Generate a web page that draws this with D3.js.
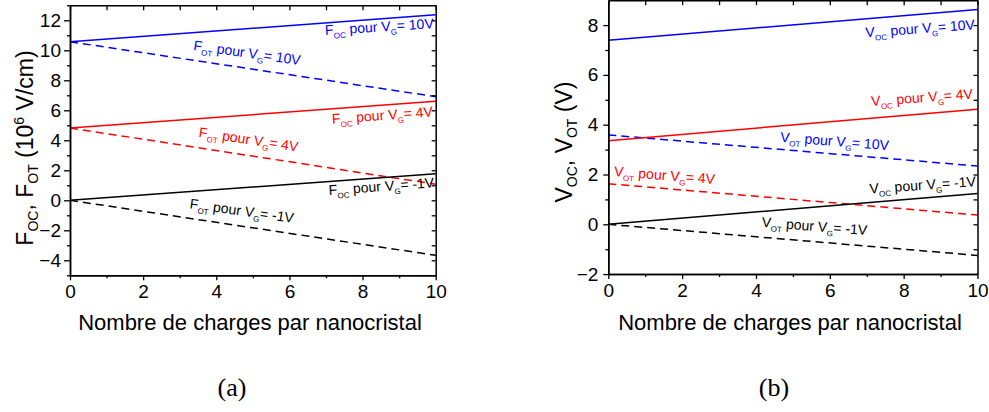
<!DOCTYPE html>
<html>
<head>
<meta charset="utf-8">
<script src="https://cdn.jsdelivr.net/npm/d3@7"></script>
<style>
  html, body { margin: 0; padding: 0; background: #fff; }
  svg { display: block; }
</style>
</head>
<body>
<svg id="chart" width="989" height="412"></svg>
<script>
// ---------- data ----------
const charges = [0, 10];
const xTicks = [0, 2, 4, 6, 8, 10];
const xMinorTicks = [1, 3, 5, 7, 9];

// panel (a): fields (10^6 V/cm)
const leftYTicks = [-4, -2, 0, 2, 4, 6, 8, 10, 12];
const leftYMinor = [-5, -3, -1, 1, 3, 5, 7, 9, 11, 13];
const fOC_VG10 = [10.57, 12.37];
const fOT_VG10 = [10.57, 6.91];
const fOC_VG4 = [4.82, 6.60];
const fOT_VG4 = [4.82, 1.07];
const fOC_VGm1 = [0, 1.77];
const fOT_VGm1 = [0, -3.67];

// panel (b): voltages (V)
const rightYTicks = [-2, 0, 2, 4, 6, 8];
const rightYMinor = [-1, 1, 3, 5, 7];
const vOC_VG10 = [7.39, 8.63];
const vOT_VG10 = [3.59, 2.34];
const vOC_VG4 = [3.36, 4.62];
const vOT_VG4 = [1.63, 0.37];
const vOC_VGm1 = [0, 1.24];
const vOT_VGm1 = [0, -1.25];

// label texts
const leftLabels = [
  { sym: "F", sub: "OC", vg: "10V", ax: 6.98, ay: 11.02, rot: -3.6, color: "#0000ff" },
  { sym: "F", sub: "OT", vg: "10V", ax: 3.36, ay: 10.02, rot: 8.0, color: "#0000ff" },
  { sym: "F", sub: "OC", vg: "4V",  ax: 7.17, ay: 5.10,  rot: -4.2, color: "#ff0000" },
  { sym: "F", sub: "OT", vg: "4V",  ax: 3.51, ay: 4.24,  rot: 8.5, color: "#ff0000" },
  { sym: "F", sub: "OC", vg: "-1V", ax: 7.08, ay: 0.35,  rot: -4.2, color: "#000000" },
  { sym: "F", sub: "OT", vg: "-1V", ax: 3.26, ay: -0.53, rot: 8.0, color: "#000000" }
];
const rightLabels = [
  { sym: "V", sub: "OC", vg: "10V", ax: 6.97, ay: 7.51, rot: -4.2, color: "#0000ff" },
  { sym: "V", sub: "OT", vg: "10V", ax: 4.65, ay: 3.32, rot: 4.5,  color: "#0000ff" },
  { sym: "V", sub: "OC", vg: "4V",  ax: 7.13, ay: 4.75, rot: -4.2, color: "#ff0000" },
  { sym: "V", sub: "OT", vg: "4V",  ax: 0.15, ay: 1.94, rot: 4.5,  color: "#ff0000" },
  { sym: "V", sub: "OC", vg: "-1V", ax: 7.08, ay: 1.24, rot: -3.9, color: "#000000" },
  { sym: "V", sub: "OT", vg: "-1V", ax: 4.15, ay: -0.10, rot: 4.5,  color: "#000000" }
];

const xTitle = "Nombre de charges par nanocristal";

// ---------- drawing ----------
const svg = d3.select("#chart");
const SANS = "'Liberation Sans', Arial, sans-serif";

function drawPanel(cfg) {
  const x = d3.scaleLinear().domain([0, 10]).range(cfg.xRange);
  const y = d3.scaleLinear().domain(cfg.yDomain).range(cfg.yRange);
  const g = svg.append("g");
  const [x0, x1] = cfg.xRange;
  const [yb, yt] = cfg.yRange;

  // series lines
  const line = d3.line().x((d, i) => x(charges[i])).y(d => y(d));
  cfg.series.forEach(s => {
    g.append("path")
      .attr("d", line(s.values))
      .attr("fill", "none")
      .attr("stroke", s.color)
      .attr("stroke-width", 1.5)
      .attr("stroke-dasharray", s.dashed ? "8,5" : null);
  });

  const styleAxis = sel => {
    sel.selectAll(".domain").attr("stroke", "#000").attr("stroke-width", 1.5);
    sel.selectAll(".tick line").attr("stroke", "#000").attr("stroke-width", 1.3);
    sel.selectAll(".tick text").attr("fill", "#000").attr("font-size", "19px").attr("font-family", SANS);
  };

  // bottom axis
  g.append("g").attr("transform", `translate(0,${yb})`)
    .call(d3.axisBottom(x).tickValues(xTicks).tickSize(5).tickPadding(4).tickSizeOuter(0).tickFormat(d3.format("d")))
    .call(styleAxis);
  g.append("g").attr("transform", `translate(0,${yb})`)
    .call(d3.axisBottom(x).tickValues(xMinorTicks).tickSize(3).tickFormat("").tickSizeOuter(0))
    .call(styleAxis);
  // left axis
  g.append("g").attr("transform", `translate(${x0},0)`)
    .call(d3.axisLeft(y).tickValues(cfg.yTicks).tickSize(cfg.ytick).tickPadding(cfg.ypad).tickSizeOuter(0).tickFormat(d3.format("d")))
    .call(styleAxis);
  g.append("g").attr("transform", `translate(${x0},0)`)
    .call(d3.axisLeft(y).tickValues(cfg.yMinor).tickSize(3).tickFormat("").tickSizeOuter(0))
    .call(styleAxis);
  // top axis (inward ticks)
  g.append("g").attr("transform", `translate(0,${yt})`)
    .call(d3.axisBottom(x).tickValues(d3.range(0, 11)).tickSize(5).tickFormat("").tickSizeOuter(0))
    .call(styleAxis);
  // right axis (inward ticks)
  g.append("g").attr("transform", `translate(${x1},0)`)
    .call(d3.axisLeft(y).tickValues(d3.range(cfg.yDomain[0] + 1, cfg.yDomain[1])).tickSize(4).tickFormat("").tickSizeOuter(0))
    .call(styleAxis);

  // labels on curves
  cfg.labels.forEach(l => {
    const px = x(l.ax), py = y(l.ay);
    const t = g.append("text")
      .attr("transform", `translate(${px},${py}) rotate(${l.rot})`)
      .attr("font-family", SANS)
      .attr("font-size", "14px")
      .attr("fill", l.color);
    t.append("tspan").text(l.sym);
    t.append("tspan").attr("font-size", "8px").attr("dy", 4).text(l.sub);
    t.append("tspan").attr("dy", -4).text(" pour V");
    t.append("tspan").attr("font-size", "8px").attr("dy", 4).text("G");
    t.append("tspan").attr("dy", -4).text("= " + l.vg);
  });

  // x title
  g.append("text")
    .attr("x", cfg.xTitleX).attr("y", 330)
    .attr("text-anchor", "middle")
    .attr("font-family", SANS).attr("font-size", "22px").attr("fill", "#000")
    .text(xTitle);

  // y title
  const yt2 = g.append("text")
    .attr("transform", `translate(${cfg.yTitleX},${cfg.yTitleY}) rotate(-90)`)
    .attr("text-anchor", "middle")
    .attr("font-family", SANS).attr("font-size", "23px").attr("fill", "#000");
  cfg.yTitleParts.forEach(p => {
    const ts = yt2.append("tspan").text(p.t);
    if (p.sub) ts.attr("font-size", "14px").attr("dy", 5);
    else if (p.sup) ts.attr("font-size", "14px").attr("dy", -9);
    if (p.back) ts.attr("dy", p.back);
  });

  // panel letter
  g.append("text")
    .attr("x", cfg.letterX).attr("y", 396)
    .attr("text-anchor", "middle")
    .attr("font-family", "'Liberation Serif', 'Times New Roman', serif")
    .attr("font-size", "26px").attr("fill", "#000")
    .text(cfg.letter);
}

drawPanel({
  xRange: [70, 435.7],
  yDomain: [-5, 13],
  yRange: [275.3, 5.3],
  yTicks: leftYTicks,
  yMinor: leftYMinor,
  ytick: 6, ypad: 3,
  series: [
    { values: fOC_VG10, color: "#0000ff", dashed: false },
    { values: fOT_VG10, color: "#0000ff", dashed: true },
    { values: fOC_VG4, color: "#ff0000", dashed: false },
    { values: fOT_VG4, color: "#ff0000", dashed: true },
    { values: fOC_VGm1, color: "#000000", dashed: false },
    { values: fOT_VGm1, color: "#000000", dashed: true }
  ],
  labels: leftLabels,
  xTitleX: 250,
  yTitleX: 33, yTitleY: 148,
  yTitleParts: [
    { t: "F" }, { t: "OC", sub: true }, { t: ", F", back: -5 }, { t: "OT", sub: true },
    { t: " (10", back: -5 }, { t: "6", sup: true }, { t: " V/cm)", back: 9 }
  ],
  letter: "(a)", letterX: 232
});

drawPanel({
  xRange: [608.3, 977.5],
  yDomain: [-2, 9],
  yRange: [274.1, 0.2],
  yTicks: rightYTicks,
  yMinor: rightYMinor,
  ytick: 5, ypad: 5,
  series: [
    { values: vOC_VG10, color: "#0000ff", dashed: false },
    { values: vOT_VG10, color: "#0000ff", dashed: true },
    { values: vOC_VG4, color: "#ff0000", dashed: false },
    { values: vOT_VG4, color: "#ff0000", dashed: true },
    { values: vOC_VGm1, color: "#000000", dashed: false },
    { values: vOT_VGm1, color: "#000000", dashed: true }
  ],
  labels: rightLabels,
  xTitleX: 790,
  yTitleX: 572, yTitleY: 142,
  yTitleParts: [
    { t: "V" }, { t: "OC", sub: true }, { t: ", V", back: -5 }, { t: "OT", sub: true },
    { t: " (V)", back: -5 }
  ],
  letter: "(b)", letterX: 774
});
</script>
</body>
</html>
